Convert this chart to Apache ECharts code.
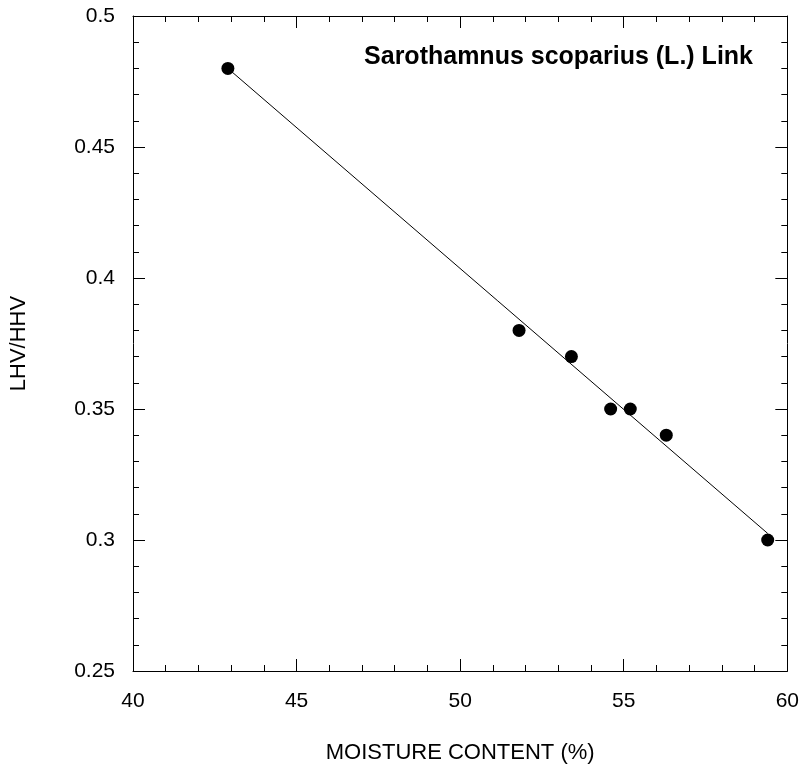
<!DOCTYPE html>
<html>
<head>
<meta charset="utf-8">
<script src="https://cdn.jsdelivr.net/npm/echarts@6/dist/echarts.min.js"></script>
<style>
  html, body { margin: 0; padding: 0; background: #fff; }
  #chart { width: 802px; height: 769px; }
</style>
</head>
<body>
<div id="chart"></div>
<script>
// measured points
var moisture = [42.9, 51.8, 53.4, 54.6, 55.2, 56.3, 59.4];
var ratio = [0.48, 0.38, 0.37, 0.35, 0.35, 0.34, 0.30];
// fitted line end points
var fitX = [42.9, 59.4];
var fitY = [0.480, 0.3025];

var titleText = 'Sarothamnus scoparius (L.) Link';
var font = 'Liberation Sans, Arial, Helvetica, sans-serif';

var chart = echarts.init(document.getElementById('chart'));

// shared tick look, ticks point inward like the original
var tickStyle = {
  axisLine: { show: true, onZero: false, lineStyle: { color: '#000', width: 1 } },
  axisTick: { show: true, inside: true, length: 12, lineStyle: { color: '#000', width: 1 } },
  minorTick: { show: true, splitNumber: 5, length: 6, lineStyle: { color: '#000', width: 1 } },
  splitLine: { show: false },
  minorSplitLine: { show: false }
};

chart.setOption({
  animation: false,
  backgroundColor: '#fff',
  title: {
    text: titleText,
    right: 44,
    top: 40,
    textStyle: { fontFamily: font, fontSize: 25, fontWeight: 'bold', color: '#000' }
  },
  grid: { left: 132, right: 14, top: 16, bottom: 96 },
  xAxis: [
    Object.assign({
      type: 'value', position: 'bottom', min: 40, max: 60, interval: 5,
      name: 'MOISTURE CONTENT (%)', nameLocation: 'middle', nameGap: 71,
      nameTextStyle: { fontFamily: font, fontSize: 22, color: '#000' },
      axisLabel: { fontFamily: font, fontSize: 21, color: '#000', margin: 20 }
    }, tickStyle),
    Object.assign({
      type: 'value', position: 'top', min: 40, max: 60, interval: 5,
      axisLabel: { show: false }
    }, tickStyle)
  ],
  yAxis: [
    Object.assign({
      type: 'value', position: 'left', min: 0.25, max: 0.5, interval: 0.05,
      name: 'LHV/HHV', nameLocation: 'middle', nameGap: 103, nameRotate: 90,
      nameTextStyle: { fontFamily: font, fontSize: 22, color: '#000' },
      axisLabel: { fontFamily: font, fontSize: 21, color: '#000', margin: 18,
        formatter: function (v) { return String(+v.toFixed(2)); } }
    }, tickStyle),
    Object.assign({
      type: 'value', position: 'right', min: 0.25, max: 0.5, interval: 0.05,
      axisLabel: { show: false }
    }, tickStyle)
  ],
  series: [
    {
      type: 'line',
      data: fitX.map(function (x, i) { return [x, fitY[i]]; }),
      showSymbol: false,
      lineStyle: { color: '#000', width: 1 },
      silent: true
    },
    {
      type: 'scatter',
      data: moisture.map(function (x, i) { return [x, ratio[i]]; }),
      symbol: 'circle',
      symbolSize: 13,
      itemStyle: { color: '#000', opacity: 1 }
    }
  ]
});
</script>
</body>
</html>
